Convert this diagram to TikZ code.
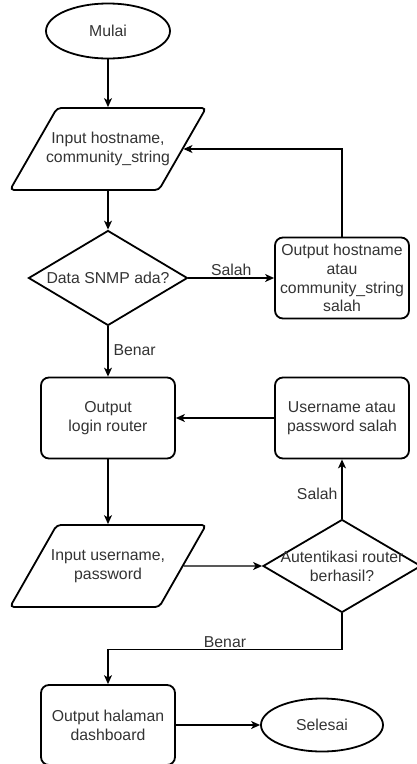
\documentclass[tikz,border=0pt]{standalone}
\usepackage{fontspec}
\setmainfont{Liberation Sans}
\usetikzlibrary{arrows.meta,shapes.geometric}

\newcommand{\zline}[1]{\makebox[0pt]{#1}}

\begin{document}
\begin{tikzpicture}[node distance=120pt,>={Stealth[length=9pt,width=8pt,inset=2.5pt]},
  font=\fontsize{15.8}{18.8}\selectfont,text=black!80]

  \tikzstyle{terminal}=[ellipse,draw,line width=1.8pt,
                        minimum width=124pt,minimum height=55pt]
  \tikzstyle{io}=[trapezium,trapezium left angle=60,trapezium right angle=120,
                  trapezium stretches body=true,draw,line width=1.8pt,rounded corners=4pt,
                  inner xsep=4pt,inner ysep=24pt,
                  minimum width=196pt,minimum height=82pt,align=center]
  \tikzstyle{process}=[rectangle,draw,line width=1.8pt,rounded corners=8pt,
                       minimum width=134pt,minimum height=81pt,align=center]
  \tikzstyle{decision}=[diamond,draw,line width=1.8pt,inner sep=0pt,
                        minimum width=159pt,minimum height=95pt,align=center]
  \tikzstyle{pre}=[<-,line width=1.2pt]
  \tikzstyle{post}=[->,line width=1.2pt]

  \useasboundingbox (0,0) rectangle (416pt,-764pt);

  % left column
  \node [terminal] (start) at (108pt,-31pt) {Mulai};
  \node [io,node distance=118pt] (host) [below of=start]
    {\zline{Input hostname,}\\\zline{community\_string}}
    edge [pre] (start);
  \node [decision,node distance=129pt] (snmp) [below of=host] {\zline{Data SNMP ada?}}
    edge [pre] (host);
  \node [process,node distance=140pt] (login) [below of=snmp] {Output\\login router};
  \node [io,node distance=148pt] (user) [below of=login]
    {\zline{Input username,}\\\zline{password}}
    edge [pre] (login);
  \node [process,node distance=159pt,minimum height=80pt] (dash) [below of=user]
    {Output halaman\\dashboard};

  % right column
  \node [process,node distance=234pt] (hosterr) [right of=snmp]
    {Output hostname\\atau\\community\_string\\salah};
  \node [process,node distance=234pt] (autherr) [right of=login] {Username atau\\password salah}
    edge [post] (login);
  \node [decision,node distance=234pt,minimum width=158pt,minimum height=93pt] (auth) [right of=user]
    {\zline{Autentikasi router}\\\zline{berhasil?}};
  \node [terminal,node distance=214pt,minimum width=122pt,minimum height=53pt] (stop) [right of=dash]
    {Selesai}
    edge [pre] (dash);

  \draw [post] (snmp) -- node [above,inner sep=2pt] {Salah} (hosterr);
  \draw [post] (hosterr) |- (host);
  \draw [post] (snmp) -- node [right,pos=0.47,inner sep=5pt] {Benar} (login);
  \draw [post] (user) -- (auth);
  \draw [post] (auth) -- node [left,pos=0.42,inner sep=4pt] {Salah} (autherr);
  \draw [post] (auth.south) -- ++(0,-36pt) -| node [above,pos=0.25,inner sep=1pt] {Benar} (dash);
\end{tikzpicture}
\end{document}
